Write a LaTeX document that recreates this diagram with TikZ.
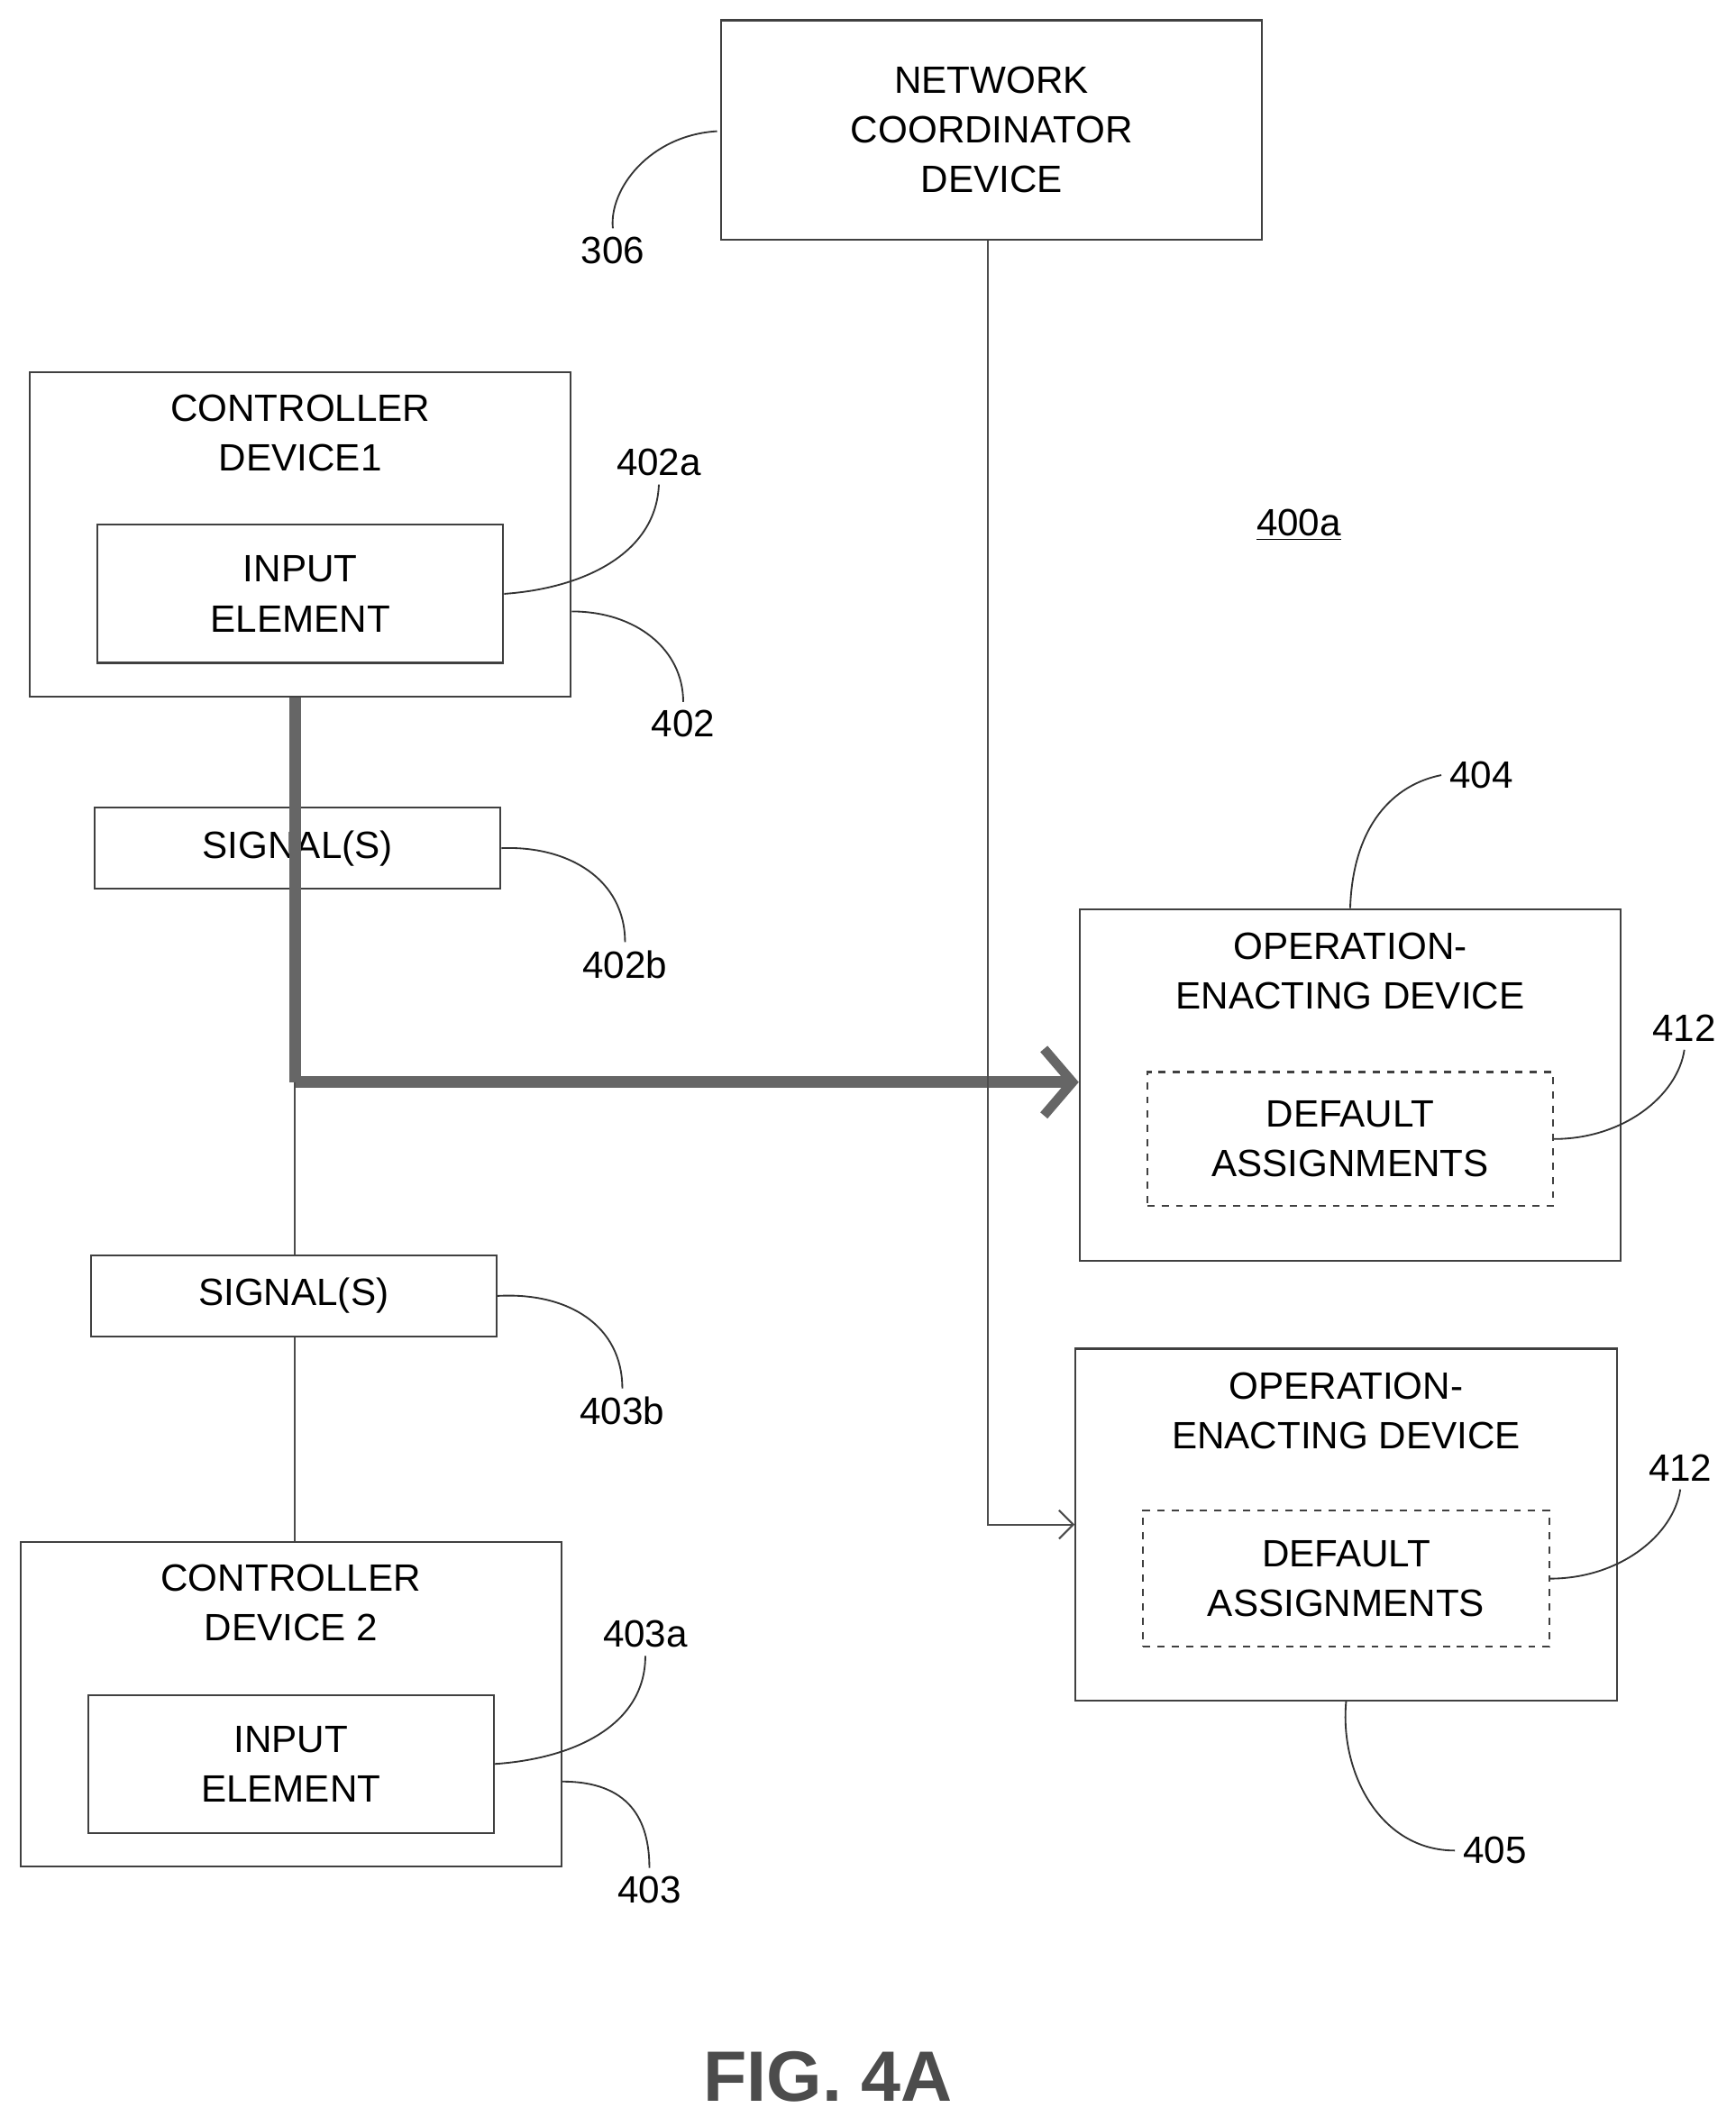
\documentclass[tikz,border=0pt]{standalone}
\usepackage{fontspec}
\setmainfont{Liberation Sans}
\usetikzlibrary{positioning,arrows.meta}

\tikzset{
  box/.style={draw=black!75, line width=0.8pt, align=center, font=\fontsize{16}{21}\selectfont},
  dbox/.style={box, dashed},
  lbl/.style={font=\fontsize{16}{19}\selectfont},
  lead/.style={draw=black!80, line width=0.7pt},
}

\begin{document}
\begin{tikzpicture}[x=0.02cm, y=-0.02cm]
\useasboundingbox (0,0) rectangle (1283,1565);

% Network coordinator
\node[box, minimum width=8cm, minimum height=3.24cm] (ncd) at (733,96)
  {NETWORK\\COORDINATOR\\DEVICE};
\node[lbl] (l306) at (453,185) {306};
\draw[lead] (530,97) .. controls (480,100) and (450,140) .. (l306.north);

% Controller device 1
\node[box, minimum width=8cm, minimum height=4.8cm] (cd1) at (222,395) {};
\node[box, draw=none, anchor=north] at (222,285) {CONTROLLER\\DEVICE1};
\node[box, minimum width=6cm, minimum height=2.04cm] (ie1) at (222,439) {INPUT\\ELEMENT};
\node[lbl] (l402a) at (487,342) {402a};
\node[lbl] (l402) at (505,535) {402};
\draw[lead] (ie1.east) .. controls (430,435) and (485,410) .. (l402a.south);
\draw[lead] (cd1.east |- 0,452) .. controls (470,452) and (505,480) .. (l402.north);

% Signals 1
\node[box, minimum width=6cm, minimum height=1.2cm] (sig1) at (220,627) {SIGNAL(S)};
\node[lbl] (l402b) at (462,713) {402b};
\draw[lead] (sig1.east) .. controls (420,625) and (462,650) .. (l402b.north);

% Operation-enacting device 404
\node[box, minimum width=8cm, minimum height=5.2cm] (oed1) at (998,802) {};
\node[box, draw=none, anchor=north] at (998,683) {OPERATION-\\ENACTING DEVICE};
\node[dbox, minimum width=6cm, minimum height=1.98cm] (da1) at (998,842) {DEFAULT\\ASSIGNMENTS};
\node[lbl] (l404) at (1095,573) {404};
\node[lbl] (l412a) at (1245,760) {412};
\draw[lead] (oed1.north) .. controls (1000,610) and (1030,580) .. (l404.west);
\draw[lead] (da1.east) .. controls (1200,842) and (1240,810) .. (l412a.south);

% Signal path from controller 1
\coordinate (jn) at (218,800);
\draw[line width=5pt, black!60] (cd1.south -| jn) -- (jn);
\draw[line width=5pt, black!60, -{Straight Barb[length=12pt, width=28pt, line width=4pt]}] (jn) -- (oed1.west |- jn);

% Signals 2
\node[box, minimum width=6cm, minimum height=1.2cm] (sig2) at (217,958) {SIGNAL(S)};
\node[lbl] (l403b) at (460,1043) {403b};
\draw[lead] (sig2.east) .. controls (420,955) and (460,980) .. (l403b.north);

% Controller device 2
\node[box, minimum width=8cm, minimum height=4.8cm] (cd2) at (215,1260) {};
\node[box, draw=none, anchor=north] at (215,1150) {CONTROLLER\\DEVICE 2};
\node[box, minimum width=6cm, minimum height=2.04cm] (ie2) at (215,1304) {INPUT\\ELEMENT};
\node[lbl] (l403a) at (477,1208) {403a};
\node[lbl] (l403) at (480,1397) {403};
\draw[lead] (ie2.east) .. controls (425,1300) and (477,1275) .. (l403a.south);
\draw[lead] (cd2.east |- 0,1317) .. controls (465,1317) and (480,1345) .. (l403.north);

\draw[line width=0.8pt, black!70] (jn) -- (sig2.north -| jn);
\draw[line width=0.8pt, black!70] (sig2.south -| jn) -- (cd2.north -| jn);

% Operation-enacting device 405
\node[box, minimum width=8cm, minimum height=5.2cm] (oed2) at (995,1127) {};
\node[box, draw=none, anchor=north] at (995,1008) {OPERATION-\\ENACTING DEVICE};
\node[dbox, minimum width=6cm, minimum height=2.02cm] (da2) at (995,1167) {DEFAULT\\ASSIGNMENTS};
\node[lbl] (l412b) at (1242,1085) {412};
\node[lbl] (l405) at (1105,1368) {405};
\draw[lead] (da2.east) .. controls (1197,1167) and (1237,1135) .. (l412b.south);
\draw[lead] (oed2.south) .. controls (990,1310) and (1020,1368) .. (l405.west);

% coordinator to 405
\coordinate (nc) at (730,1127);
\draw[line width=0.8pt, black!70, -{Straight Barb[length=6pt, width=12pt]}]
  (ncd.south -| nc) -- (nc) -- (oed2.west |- nc);

% figure id
\node[lbl] (l400a) at (960,388) {\underline{400a}};
\node[font=\bfseries\fontsize{30}{34}\selectfont, text=black!70] (fig) at (612,1535) {FIG. 4A};
\end{tikzpicture}
\end{document}
